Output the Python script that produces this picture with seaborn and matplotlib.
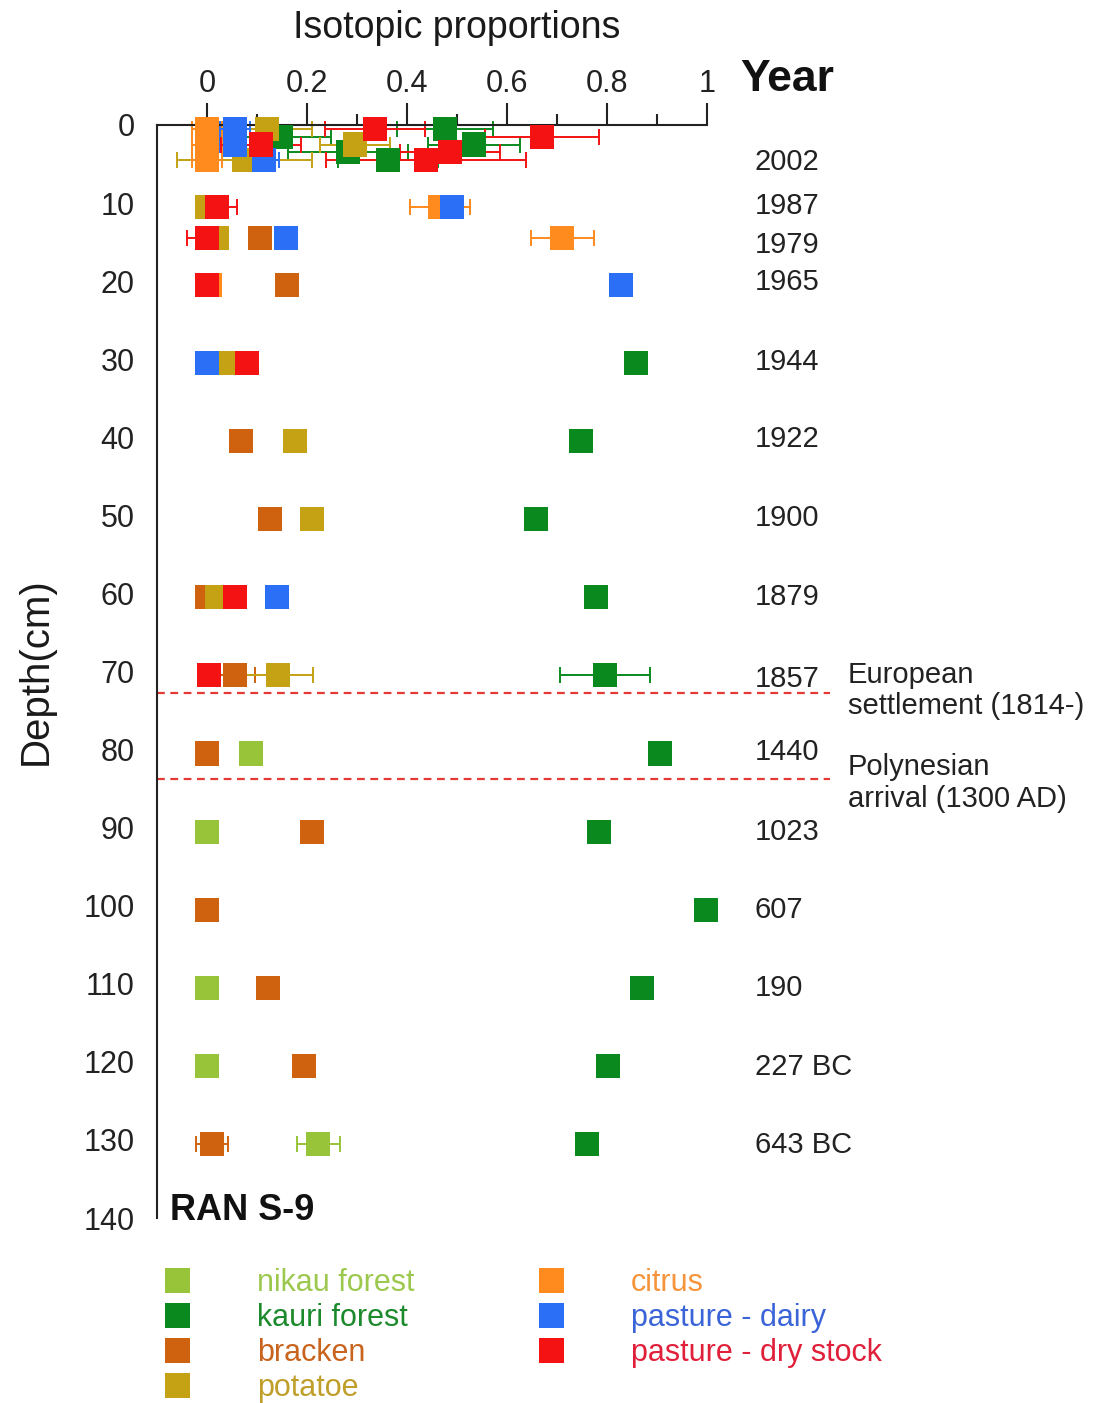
import numpy as np
import pandas as pd
import matplotlib
matplotlib.use("Agg")
import matplotlib.pyplot as plt
import seaborn as sns
from matplotlib.lines import Line2D

# ---- sources, colours -------------------------------------------------------
sources = ["nikau forest", "kauri forest", "bracken", "potatoe",
           "citrus", "pasture - dairy", "pasture - dry stock"]
colors = ["#98c43a", "#0a8a1e", "#cf620e", "#c4a213",
          "#ff8a1e", "#2a6ff5", "#f41212"]
label_colors = ["#9cc84e", "#1c8a2c", "#c8641e", "#bf9f2a",
                "#f5943a", "#3a64d8", "#e0203a"]

# ---- isotopic proportions per source (depth cm, mean, +/- error) ------------
nikau_depth = [80.5, 90.5, 110.5, 120.5, 130.5]
nikau_mean = [0.088, 0.0, 0.0, 0.0, 0.222]
nikau_err = [0, 0, 0, 0, 0.043]

kauri_depth = [0.5, 1.5, 2.5, 3.5, 4.5, 30.5, 40.5, 50.5, 60.5, 70.5,
               80.5, 90.5, 100.5, 110.5, 120.5, 130.5]
kauri_mean = [0.476, 0.148, 0.534, 0.282, 0.362, 0.858, 0.748, 0.658, 0.778,
              0.796, 0.906, 0.784, 0.998, 0.870, 0.802, 0.760]
kauri_err = [0.096, 0.10, 0.092, 0.12, 0.10, 0, 0, 0, 0, 0.09,
             0, 0, 0, 0, 0, 0]

bracken_depth = [14.5, 20.5, 40.5, 50.5, 60.5, 70.5, 80.5, 90.5, 100.5,
                 110.5, 120.5, 130.5]
bracken_mean = [0.106, 0.160, 0.068, 0.126, 0.0, 0.056, 0.0, 0.210, 0.0,
                0.122, 0.194, 0.010]
bracken_err = [0, 0, 0, 0, 0, 0.04, 0, 0, 0, 0, 0, 0.032]

potatoe_depth = [0.5, 2.5, 4.5, 10.5, 14.5, 30.5, 40.5, 50.5, 60.5, 70.5]
potatoe_mean = [0.120, 0.296, 0.075, 0.0, 0.020, 0.045, 0.176, 0.210, 0.020,
                0.142]
potatoe_err = [0.09, 0.07, 0.135, 0, 0, 0, 0, 0, 0, 0.07]

citrus_depth = [0.5, 2.5, 4.5, 10.5, 14.5, 20.5]
citrus_mean = [0.0, 0.0, 0.0, 0.466, 0.710, 0.006]
citrus_err = [0.03, 0.03, 0.03, 0.06, 0.063, 0]

dairy_depth = [0.5, 2.5, 4.5, 10.5, 14.5, 20.5, 30.5, 60.5]
dairy_mean = [0.056, 0.056, 0.114, 0.490, 0.158, 0.828, 0.0, 0.140]
dairy_err = [0.03, 0.03, 0.03, 0, 0, 0, 0, 0]

drystock_depth = [0.5, 1.5, 2.5, 3.5, 4.5, 10.5, 14.5, 20.5, 30.5, 60.5, 70.5]
drystock_mean = [0.336, 0.670, 0.108, 0.486, 0.438, 0.020, 0.0, 0.0, 0.080,
                 0.056, 0.004]
drystock_err = [0.10, 0.114, 0.08, 0.10, 0.20, 0.04, 0.04, 0, 0, 0, 0]

# ---- dated horizons ------------------------------------------------------------
year_labels = ["2002", "1987", "1979", "1965", "1944", "1922", "1900", "1879",
               "1857", "1440", "1023", "607", "190", "227 BC", "643 BC"]
year_depth = [4.7, 10.4, 15.4, 20.1, 30.3, 40.2, 50.4, 60.5, 70.9, 80.3,
              90.5, 100.5, 110.5, 120.7, 130.6]

events = ["European\nsettlement (1814-)", "Polynesian\narrival (1300 AD)"]
event_depth = [72.8, 83.8]

series = [
    (nikau_depth, nikau_mean, nikau_err),
    (kauri_depth, kauri_mean, kauri_err),
    (bracken_depth, bracken_mean, bracken_err),
    (potatoe_depth, potatoe_mean, potatoe_err),
    (citrus_depth, citrus_mean, citrus_err),
    (dairy_depth, dairy_mean, dairy_err),
    (drystock_depth, drystock_mean, drystock_err),
]

frames = []
for name, (d, m, e) in zip(sources, series):
    frames.append(pd.DataFrame({"source": name, "depth": d,
                                "proportion": m, "err": e}))
df = pd.concat(frames, ignore_index=True)

# ---- figure ------------------------------------------------------------------
sns.set_theme(style="white")
plt.rcParams["font.family"] = ["Liberation Sans", "DejaVu Sans"]
plt.rcParams["text.color"] = "#1a1a1a"

fig = plt.figure(figsize=(11.05, 14.03), dpi=100)
ax = fig.add_axes([157 / 1105, 185 / 1403, 675 / 1105, 1093 / 1403])

palette = dict(zip(sources, colors))

# error bars underneath the markers
for name in sources:
    sub = df[(df["source"] == name) & (df["err"] > 0)]
    if len(sub):
        ax.errorbar(sub["proportion"], sub["depth"], xerr=sub["err"],
                    fmt="none", ecolor=palette[name], elinewidth=1.4,
                    capsize=6, capthick=1.4, zorder=2, clip_on=False)

sns.scatterplot(data=df, x="proportion", y="depth", hue="source",
                hue_order=sources, palette=palette, marker="s", s=300,
                linewidth=0, legend=False, ax=ax, zorder=3, clip_on=False)

ax.set_xlim(-0.1, 1.25)
ax.set_ylim(140, 0)

# axes frame: top and left spines only
for side in ("right", "bottom"):
    ax.spines[side].set_visible(False)
ax.spines["top"].set_bounds(-0.1, 1.0)
ax.spines["left"].set_bounds(0, 140)
for side in ("top", "left"):
    ax.spines[side].set_linewidth(1.5)
    ax.spines[side].set_color("#222222")

ax.xaxis.tick_top()
ax.set_xticks([0, 0.2, 0.4, 0.6, 0.8, 1.0])
ax.set_xticklabels(["0", "0.2", "0.4", "0.6", "0.8", "1"])
ax.set_xticks([0.1, 0.3, 0.5, 0.7, 0.9], minor=True)
ax.set_yticks(np.arange(0, 141, 10))
ax.set_yticks(np.arange(5, 141, 10), minor=True)

ax.tick_params(axis="x", which="major", direction="out", length=16, width=1.5,
               labelsize=22, pad=3, colors="#222222")
ax.tick_params(axis="x", which="minor", direction="out", length=8, width=1.5,
               colors="#222222")
ax.tick_params(axis="y", which="major", direction="out", length=14, width=1.5,
               labelsize=22, pad=2, colors="#222222")
ax.tick_params(axis="y", which="minor", direction="out", length=6, width=1.5,
               colors="#222222")

ax.set_xlabel("")
ax.set_ylabel("Depth(cm)", fontsize=29, color="#1a1a1a")
ax.yaxis.set_label_coords(-0.151, 0.5)

# axis title, year column and core name
ax.text(0.5, -12.4, "Isotopic proportions", ha="center", va="center",
        fontsize=27)
ax.text(1.066, -5.8, "Year", ha="left", va="center", fontsize=32,
        fontweight="bold", color="#111111")
for lab, d in zip(year_labels, year_depth):
    ax.text(1.096, d, lab, ha="left", va="center", fontsize=21,
            color="#222222")
ax.text(-0.074, 139, "RAN S-9", ha="left", va="center", fontsize=26,
        fontweight="bold", color="#111111")

# settlement horizons
for lab, d in zip(events, event_depth):
    ax.plot([-0.1, 1.245], [d, d], color="#e53935", lw=1.6,
            ls=(0, (3.5, 2.5)), zorder=1, clip_on=False)
ax.text(1.282, 72.4, events[0], ha="left", va="center", fontsize=21,
        color="#222222", linespacing=1.15)
ax.text(1.282, 84.3, events[1], ha="left", va="center", fontsize=21,
        color="#222222", linespacing=1.15)

# legend in two columns
def make_legend(idx, x_px):
    handles = [Line2D([], [], ls="none", marker="s", markersize=18,
                      markerfacecolor=colors[i], markeredgewidth=0)
               for i in idx]
    leg = fig.legend(handles, [sources[i] for i in idx],
                     loc="upper left",
                     bbox_to_anchor=(x_px / 1105, 1 - 1268 / 1403),
                     frameon=False, fontsize=22, handlelength=1.0,
                     handletextpad=2.1, labelspacing=0.16, borderpad=0,
                     borderaxespad=0,
                     labelcolor=[label_colors[i] for i in idx])
    return leg

make_legend([0, 1, 2, 3], 162)
make_legend([4, 5, 6], 536)

fig.savefig("out.png", dpi=100)
